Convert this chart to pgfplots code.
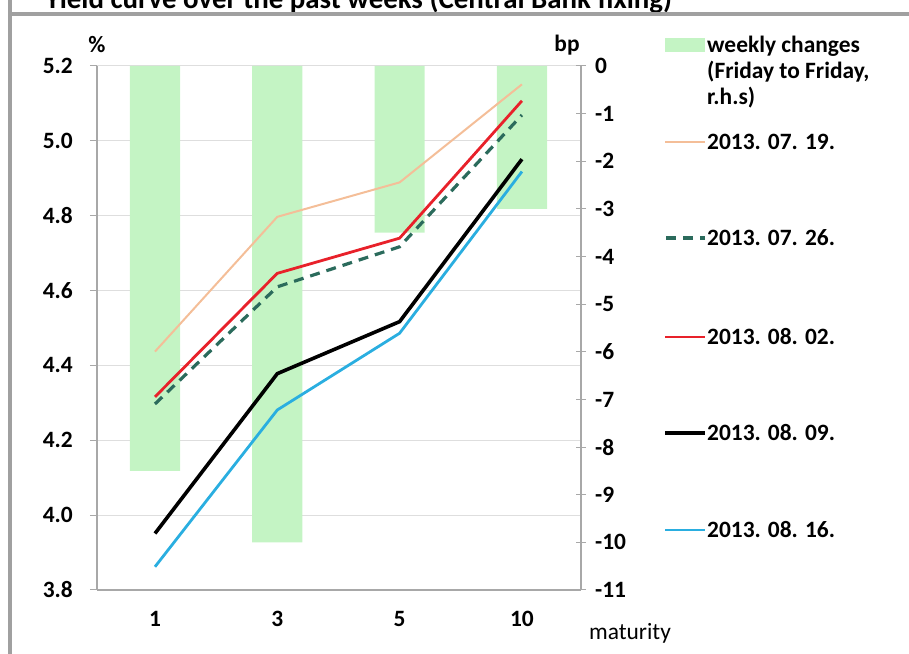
\documentclass[border=0pt]{standalone}
\usepackage{pgfplots}
\pgfplotsset{compat=1.18}
\usepackage{fontspec}
\setmainfont{Carlito}

\definecolor{barGreen}{RGB}{196,244,196}
\definecolor{tanLine}{RGB}{244,190,152}
\definecolor{redLine}{RGB}{232,33,42}
\definecolor{dashLine}{RGB}{43,107,92}
\definecolor{cyanLine}{RGB}{42,174,224}
\definecolor{gridGray}{RGB}{222,222,222}
\definecolor{axisGray}{RGB}{168,168,168}
\definecolor{frameGray}{RGB}{160,160,160}

\newcommand{\lbl}{\fontsize{23.5}{27}\selectfont\bfseries}

\pgfplotsset{
  common/.style={
    at={(97bp,64bp)}, anchor=south west,
    scale only axis, width=484bp, height=524bp,
    xmin=-0.474, xmax=3.483,
    clip=false,
  }
}

\begin{document}
\begin{tikzpicture}
\clip (0,0) rectangle (909bp,654bp);
\path[use as bounding box] (0,0) rectangle (909bp,654bp);

% left scale: grid, left axis line and category axis
\begin{axis}[common,
  ymin=3.8, ymax=5.2,
  axis x line*=bottom, axis y line*=left,
  axis line style={axisGray, line width=1.2bp},
  ytick={3.8,4.0,4.2,4.4,4.6,4.8,5.0,5.2},
  yticklabels={3.8,4.0,4.2,4.4,4.6,4.8,5.0,5.2},
  ymajorgrids, grid style={gridGray, line width=1bp},
  tick align=outside, major tick length=7bp,
  ytick style={axisGray, line width=1bp},
  yticklabel style={font=\lbl, inner sep=0pt, xshift=-17bp},
  xtick={0,1,2,3}, xticklabels={1,3,5,10},
  xtick style={draw=none},
  xticklabel style={font=\lbl, inner sep=0pt, yshift=-14bp},
  extra x ticks={0.5,1.5,2.5},
  extra x tick labels={},
  extra x tick style={tick style={axisGray, line width=1bp}, major tick length=6bp},
]
\end{axis}

% right scale: weekly changes in bp
\begin{axis}[common,
  ymin=-11, ymax=0,
  axis x line=none, axis y line*=right,
  axis line style={axisGray, line width=1.2bp},
  ytick={-11,-10,-9,-8,-7,-6,-5,-4,-3,-2,-1,0},
  yticklabels={-11,-10,-9,-8,-7,-6,-5,-4,-3,-2,-1,0},
  tick align=center, major tick length=10bp,
  ytick style={axisGray, line width=1bp},
  yticklabel style={font=\lbl, inner sep=0pt, anchor=west, xshift=9bp},
  ybar, bar width=0.41,
]
\addplot[fill=barGreen, draw=none] coordinates {(0,-8.5) (1,-10) (2,-3.5) (3,-3)};
\end{axis}

% yield curves, left scale
\begin{axis}[common,
  ymin=3.8, ymax=5.2,
  hide axis,
]
\addplot[tanLine, line width=2bp] coordinates {(0,4.437) (1,4.797) (2,4.889) (3,5.151)};
\addplot[dashLine, line width=3.2bp, dash pattern=on 10bp off 7bp] coordinates {(0,4.297) (1,4.610) (2,4.717) (3,5.069)};
\addplot[redLine, line width=2.8bp] coordinates {(0,4.316) (1,4.646) (2,4.740) (3,5.107)};
\addplot[black, line width=3.6bp] coordinates {(0,3.951) (1,4.378) (2,4.517) (3,4.951)};
\addplot[cyanLine, line width=2.8bp] coordinates {(0,3.862) (1,4.281) (2,4.486) (3,4.918)};
\end{axis}

\begin{scope}[x=1bp, y=1bp]
% heading and frame
\node[anchor=base west, font=\fontsize{29}{33}\selectfont\bfseries, inner sep=0] at (45,645)
  {Yield curve over the past weeks (Central Bank fixing)};
\fill[white] (0,641) rectangle (909,638);
\draw[frameGray, line width=3bp] (10,0) -- (10,654);
\draw[frameGray, line width=3.5bp] (10,640) -- (909,640);

% unit captions
\node[font=\lbl] at (97,609) {\%};
\node[font=\lbl] at (567,609) {bp};
\node[font=\fontsize{23.5}{27}\selectfont] at (630,21) {maturity};

% key
\fill[barGreen] (665,602) rectangle (705,616);
\node[anchor=base west, font=\lbl, inner sep=0] at (707,601) {weekly changes};
\node[anchor=base west, font=\lbl, inner sep=0] at (707,575) {(Friday to Friday,};
\node[anchor=base west, font=\lbl, inner sep=0] at (707,549) {r.h.s)};

\draw[tanLine, line width=2bp] (665,512) -- (705,512);
\node[anchor=west, font=\lbl, inner sep=0] at (707,512) {2013. 07. 19.};
\draw[dashLine, line width=3.2bp, dash pattern=on 10bp off 7bp] (666,416) -- (705,416);
\node[anchor=west, font=\lbl, inner sep=0] at (707,416) {2013. 07. 26.};
\draw[redLine, line width=2.8bp] (665,317) -- (705,317);
\node[anchor=west, font=\lbl, inner sep=0] at (707,317) {2013. 08. 02.};
\draw[black, line width=3.6bp] (665,221) -- (705,221);
\node[anchor=west, font=\lbl, inner sep=0] at (707,221) {2013. 08. 09.};
\draw[cyanLine, line width=2.8bp] (665,124) -- (705,124);
\node[anchor=west, font=\lbl, inner sep=0] at (707,124) {2013. 08. 16.};
\end{scope}
\end{tikzpicture}
\end{document}
